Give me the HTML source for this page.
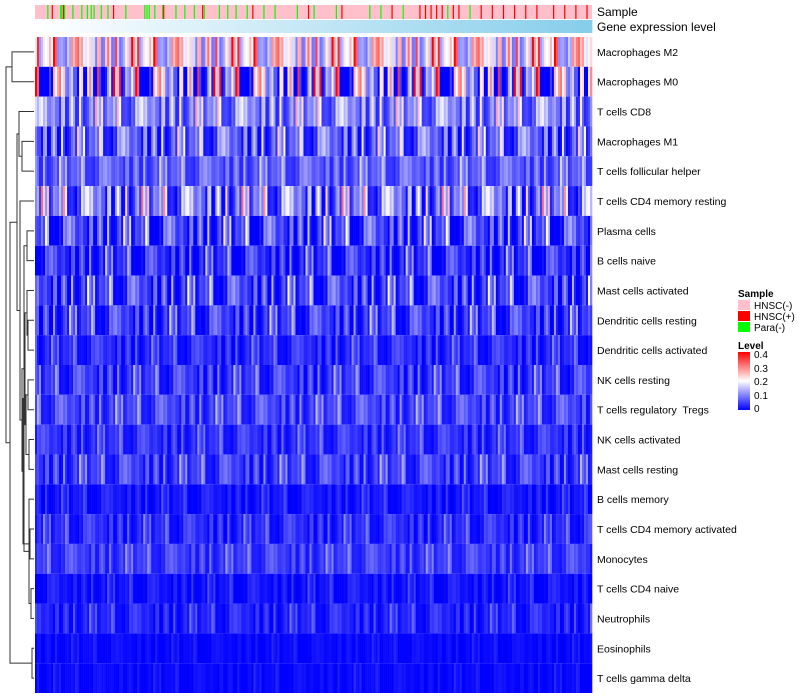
<!DOCTYPE html>
<html><head><meta charset="utf-8"><style>
body{margin:0;background:#fff;width:800px;height:700px;overflow:hidden;font-family:"Liberation Sans",sans-serif}
svg{position:absolute;left:0;top:0}
text{white-space:pre}
</style></head><body>
<svg id="c" width="800" height="700" xmlns="http://www.w3.org/2000/svg">
<defs>
<linearGradient id="lvl" x1="0" x2="0" y1="1" y2="0"><stop offset="0" stop-color="#0000ff"/><stop offset="0.5" stop-color="#ffffff"/><stop offset="1" stop-color="#ff0000"/></linearGradient>
</defs>
<g id="sampleBar"></g>
<g id="geneBar"></g>
<text x="597" y="16" font-size="12">Sample</text>
<text x="597" y="31" font-size="12">Gene expression level</text>
<g id="cells"></g>
<g id="labels"></g>
<g id="dendro" stroke="#333" fill="none" stroke-width="1"></g>
<g font-size="10">
<text x="738" y="297" font-weight="bold" font-size="10">Sample</text>
<rect x="738" y="300" width="12" height="10" fill="#ffc0cb"/>
<text x="754" y="309">HNSC(-)</text>
<rect x="738" y="311" width="12" height="10" fill="#ff0000"/>
<text x="754" y="320">HNSC(+)</text>
<rect x="738" y="322" width="12" height="10" fill="#00ff00"/>
<text x="754" y="331">Para(-)</text>
<text x="738" y="349" font-weight="bold">Level</text>
<rect x="738" y="352" width="12" height="58" fill="url(#lvl)"/>
<text x="754" y="358">0.4</text>
<text x="754" y="372">0.3</text>
<text x="754" y="385">0.2</text>
<text x="754" y="399">0.1</text>
<text x="754" y="412">0</text>
</g>
</svg>
<script>
const rowNames=["Macrophages M2","Macrophages M0","T cells CD8","Macrophages M1","T cells follicular helper","T cells CD4 memory resting","Plasma cells","B cells naive","Mast cells activated","Dendritic cells resting","Dendritic cells activated","NK cells resting","T cells regulatory  Tregs","NK cells activated","Mast cells resting","B cells memory","T cells CD4 memory activated","Monocytes","T cells CD4 naive","Neutrophils","Eosinophils","T cells gamma delta"];
const rowMeans=[0.19,0.10,0.10,0.07,0.07,0.09,0.045,0.03,0.045,0.04,0.03,0.04,0.05,0.035,0.045,0.015,0.03,0.045,0.012,0.025,0.006,0.006];
const rowSpread=[0.10,0.16,0.07,0.07,0.04,0.09,0.07,0.05,0.06,0.05,0.03,0.04,0.04,0.03,0.04,0.02,0.03,0.03,0.02,0.025,0.01,0.01];
const colOffsets=[0.3,-0.8,1.2,-0.2,0.6,-1.0,0.1,1.8,-0.5,0.4,-0.9,0.9,-0.3,2.2,-0.7,0.2,-1.0,0.7,0.0,-0.6,1.4,-0.4,0.5,-0.9,0.8,-0.1,1.0,-0.8,0.3,-0.5,1.6,-1.0,0.2,0.6,-0.7,0.1,2.5,-0.3,-0.9,0.4,1.1,-0.6,0.0,0.9,-1.0,0.5,-0.2,1.3,-0.8,0.7];
const greenCols=[0.022,0.045,0.047,0.052,0.067,0.083,0.093,0.1,0.105,0.118,0.13,0.162,0.196,0.2,0.204,0.214,0.228,0.252,0.268,0.285,0.303,0.33,0.345,0.36,0.38,0.41,0.43,0.47,0.5,0.54,0.6,0.62,0.66,0.7,0.74,0.78];
const redCols=[0.03,0.05,0.14,0.23,0.3,0.39,0.49,0.55,0.64,0.69,0.7,0.71,0.72,0.73,0.75,0.76,0.8,0.82,0.84,0.86,0.88,0.9,0.93,0.95,0.97,0.99];
const x0=35,x1=592,y0=37,y1=693,nCols=278;
const cw=(x1-x0)/nCols,rh=(y1-y0)/rowNames.length;
const ns="http://www.w3.org/2000/svg";
function xs(f){return x0+f*(x1-x0);}
function ys(i){return y0+i*rh;}
function color(v){v=Math.max(0,Math.min(0.4,v));let t;
 if(v<0.2){t=v/0.2;const c=Math.round(255*t);return `rgb(${c},${c},255)`;}
 t=(v-0.2)/0.2;const c=Math.round(255*(1-t));return `rgb(255,${c},${c})`;}
const gb=document.getElementById('geneBar');
for(let j=0;j<100;j++){const t=j/99;const e=document.createElementNS(ns,'rect');
 e.setAttribute('x',(x0+j*(x1-x0)/100).toFixed(2));e.setAttribute('y',20);e.setAttribute('width',((x1-x0)/100+0.4).toFixed(2));e.setAttribute('height',13);
 e.setAttribute('fill',`rgb(${Math.round(255-120*t)},${Math.round(255-49*t)},${Math.round(255-20*t)})`);
 
 
 gb.appendChild(e);}
const sb=document.getElementById('sampleBar');
let r=document.createElementNS(ns,'rect');r.setAttribute('x',x0);r.setAttribute('y',5);r.setAttribute('width',x1-x0);r.setAttribute('height',14);r.setAttribute('fill','#ffc0cb');


sb.appendChild(r);
function tick(f,col,name){const e=document.createElementNS(ns,'rect');e.setAttribute('x',xs(f));e.setAttribute('y',5);e.setAttribute('width',1.2);e.setAttribute('height',14);e.setAttribute('fill',col);


sb.appendChild(e);}
greenCols.forEach(f=>tick(f,'#00ff00','sample-para-neg'));
redCols.forEach(f=>tick(f,'#ff0000','sample-hnsc-pos'));
const cells=document.getElementById('cells');
rowNames.forEach((n,i)=>{
 const g=document.createElementNS(ns,'g');
 
 
 for(let j=0;j<nCols;j++){
  const off=colOffsets[(j*7+i*13)%colOffsets.length];
  const v=rowMeans[i]+rowSpread[i]*off;
  const e=document.createElementNS(ns,'rect');
  e.setAttribute('x',(x0+j*cw).toFixed(2));e.setAttribute('y',ys(i).toFixed(2));
  e.setAttribute('width',(cw+0.3).toFixed(2));e.setAttribute('height',rh.toFixed(2));
  e.setAttribute('fill',color(v));
  
  
  g.appendChild(e);
 }
 cells.appendChild(g);
 const t=document.createElementNS(ns,'text');
 t.setAttribute('x',597);t.setAttribute('y',(ys(i)+rh/2+4).toFixed(1));t.setAttribute('font-size','10.5');
 t.setAttribute('xml:space','preserve');
 t.textContent=n;
 
 
 document.getElementById('labels').appendChild(t);
});
const merges=[[20,21,2],[18,19,3],[16,17,4],[15,23,5],[13,14,5],[11,12,6],[9,10,6],[8,28,7],[26,27,8],[6,7,7],[29,30,9],[25,31,10],[24,33,11],[32,34,12],[5,35,14],[3,4,12],[2,37,15],[36,38,17],[0,1,22],[22,39,24],[40,41,28]];
const pos={};rowNames.forEach((n,i)=>pos[i]={y:ys(i)+rh/2,h:0});
const dg=document.getElementById('dendro');
merges.forEach((m,k)=>{const a=pos[m[0]],b=pos[m[1]],h=m[2];const xh=34-h;
 const p=document.createElementNS(ns,'path');
 p.setAttribute('d',`M${34-a.h},${a.y}H${xh}V${b.y}H${34-b.h}`);
 
 
 dg.appendChild(p);pos[22+k]={y:(a.y+b.y)/2,h:h};});
</script>
</body></html>
